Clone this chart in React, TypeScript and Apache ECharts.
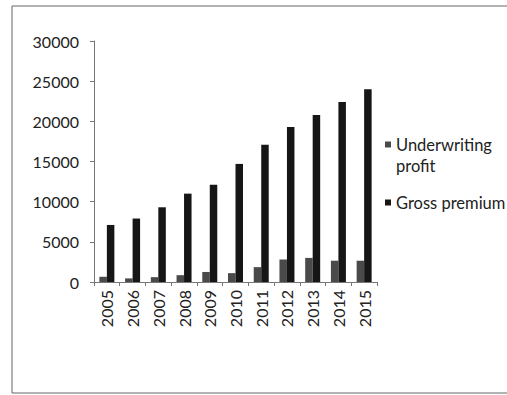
import React, { useEffect, useRef } from "react";
import * as echarts from "echarts";

const years = ["2005", "2006", "2007", "2008", "2009", "2010", "2011", "2012", "2013", "2014", "2015"];
const underwritingProfit = [650, 450, 600, 850, 1250, 1100, 1850, 2800, 3000, 2650, 2650];
const grossPremium = [7100, 7900, 9300, 11000, 12100, 14700, 17100, 19300, 20800, 22400, 24000];
const yTicks = { min: 0, max: 30000, interval: 5000 };

const FONT = "Lato, 'Open Sans', sans-serif";

export default function App() {
  const ref = useRef<HTMLDivElement>(null);

  useEffect(() => {
    if (!ref.current) return;
    document.body.style.margin = "0";
    const chart = echarts.init(ref.current, null, { renderer: "svg" });
    chart.setOption({
      animation: false,
      backgroundColor: "#ffffff",
      textStyle: { fontFamily: FONT, color: "#222" },
      graphic: [
        {
          type: "rect",
          shape: { x: 12, y: 6, width: 520, height: 387 },
          style: { fill: "none", stroke: "#666", lineWidth: 1 },
          silent: true,
        },
      ],
      legend: {
        orient: "vertical",
        left: 380,
        top: 108,
        icon: "rect",
        itemWidth: 6,
        itemHeight: 6,
        itemGap: 16,
        textStyle: { fontSize: 16.5, color: "#222", lineHeight: 21, fontFamily: FONT },
        // a blank leading line keeps the swatch level with the first line of the wrapped label
        formatter: (name: string) => (name === "Underwriting profit" ? "\nUnderwriting\nprofit" : name),
        data: ["Underwriting profit", "Gross premium"],
      },
      grid: { left: 94, right: 130, top: 41, bottom: 113 },
      xAxis: {
        type: "category",
        data: years,
        axisLine: { lineStyle: { color: "#777" } },
        axisTick: { show: true, length: 4, lineStyle: { color: "#777" } },
        axisLabel: { rotate: 90, fontSize: 16, color: "#222", margin: 8, fontFamily: FONT },
      },
      yAxis: {
        type: "value",
        min: yTicks.min,
        max: yTicks.max,
        interval: yTicks.interval,
        splitLine: { show: false },
        axisLine: { show: true, lineStyle: { color: "#777" } },
        axisTick: { show: true, length: 4, lineStyle: { color: "#777" } },
        axisLabel: {
          fontSize: 16,
          color: "#222",
          margin: 15,
          fontFamily: FONT,
          formatter: (v: number) => String(v),
        },
      },
      series: [
        {
          name: "Underwriting profit",
          type: "bar",
          data: underwritingProfit,
          barWidth: 7.5,
          barGap: "0%",
          itemStyle: { color: "#4a4a4a" },
        },
        {
          name: "Gross premium",
          type: "bar",
          data: grossPremium,
          barWidth: 7.5,
          itemStyle: { color: "#161616" },
        },
      ],
    });
    return () => chart.dispose();
  }, []);

  return <div ref={ref} style={{ width: 507, height: 395, position: "absolute", left: 0, top: 0 }} />;
}
